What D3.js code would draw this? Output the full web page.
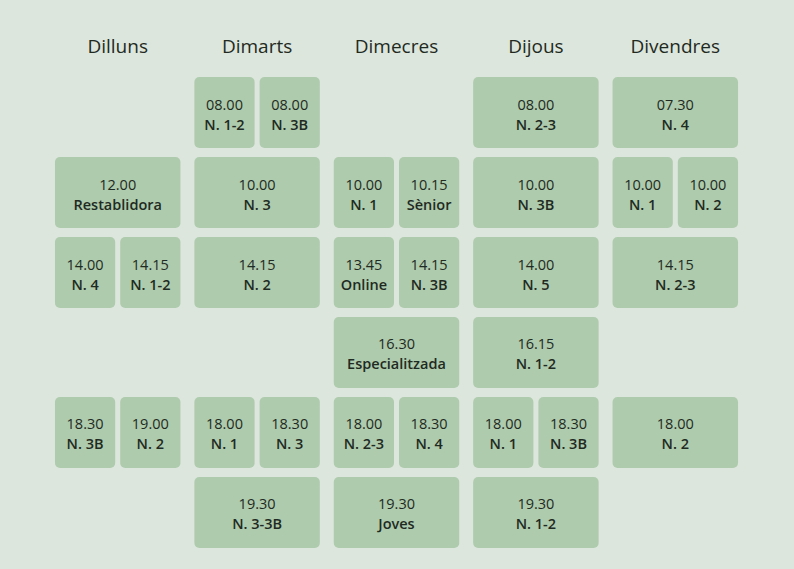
<!DOCTYPE html><html><head><meta charset="utf-8"><script src="https://cdn.jsdelivr.net/npm/d3@7"></script>
<style>body{margin:0;background:#dce6dc}</style></head><body><svg id="c" width="794" height="569"></svg><script>
const days=["Dilluns","Dimarts","Dimecres","Dijous","Divendres"];
const slotDay=[1,1,3,4, 0,1,2,2,3,4,4, 0,0,1,2,2,3,4, 2,3, 0,0,1,1,2,2,3,3,4, 1,2,3];
const slotRow=[0,0,0,0, 1,1,1,1,1,1,1, 2,2,2,2,2,2,2, 3,3, 4,4,4,4,4,4,4,4,4, 5,5,5];
const slotPart=[1,2,0,0, 0,0,1,2,0,1,2, 1,2,0,1,2,0,0, 0,0, 1,2,1,2,1,2,1,2,0, 0,0,0];
const times=["08.00","08.00","08.00","07.30","12.00","10.00","10.00","10.15","10.00","10.00","10.00","14.00","14.15","14.15","13.45","14.15","14.00","14.15","16.30","16.15","18.30","19.00","18.00","18.30","18.00","18.30","18.00","18.30","18.00","19.30","19.30","19.30"];
const labels=["N. 1-2","N. 3B","N. 2-3","N. 4","Restablidora","N. 3","N. 1","Sènior","N. 3B","N. 1","N. 2","N. 4","N. 1-2","N. 2","Online","N. 3B","N. 5","N. 2-3","Especialitzada","N. 1-2","N. 3B","N. 2","N. 1","N. 3","N. 2-3","N. 4","N. 1","N. 3B","N. 2","N. 3-3B","Joves","N. 1-2"];
const svg=d3.select("#c");
const x=d3.scaleBand().domain(d3.range(5)).range([48,745]).paddingInner(0.1).paddingOuter(0.05);
const y=d3.scaleBand().domain(d3.range(6)).range([73,552]).paddingInner(0.112).paddingOuter(0.05);
svg.selectAll("text.d").data(days).join("text").attr("x",(d,i)=>x(i)+x.bandwidth()/2).attr("y",53)
 .attr("text-anchor","middle").attr("font-family","Open Sans").attr("font-size",19).attr("fill","#1f2a22").text(d=>d);
const data=slotDay.map((d,i)=>({d,r:slotRow[i],p:slotPart[i],t:times[i],l:labels[i]}));
const g=svg.selectAll("g.c").data(data).join("g").attr("transform",e=>{
 const bw=x.bandwidth(),half=(bw-5)/2;const x0=x(e.d)+(e.p===2?half+5:0);e.w=e.p?half:bw;return `translate(${x0},${y(e.r)})`;});
g.append("rect").attr("width",e=>e.w).attr("height",y.bandwidth()).attr("rx",5).attr("fill","#aecbad");
g.append("text").attr("x",e=>e.w/2).attr("y",y.bandwidth()/2-3).attr("text-anchor","middle").attr("font-family","Open Sans").attr("font-size",14.5).attr("fill","#1f2a22").text(e=>e.t);
g.append("text").attr("x",e=>e.w/2).attr("y",y.bandwidth()/2+17).attr("text-anchor","middle").attr("font-family","Open Sans").attr("font-weight",600).attr("font-size",14.5).attr("fill","#1f2a22").text(e=>e.l);
</script></body></html>
